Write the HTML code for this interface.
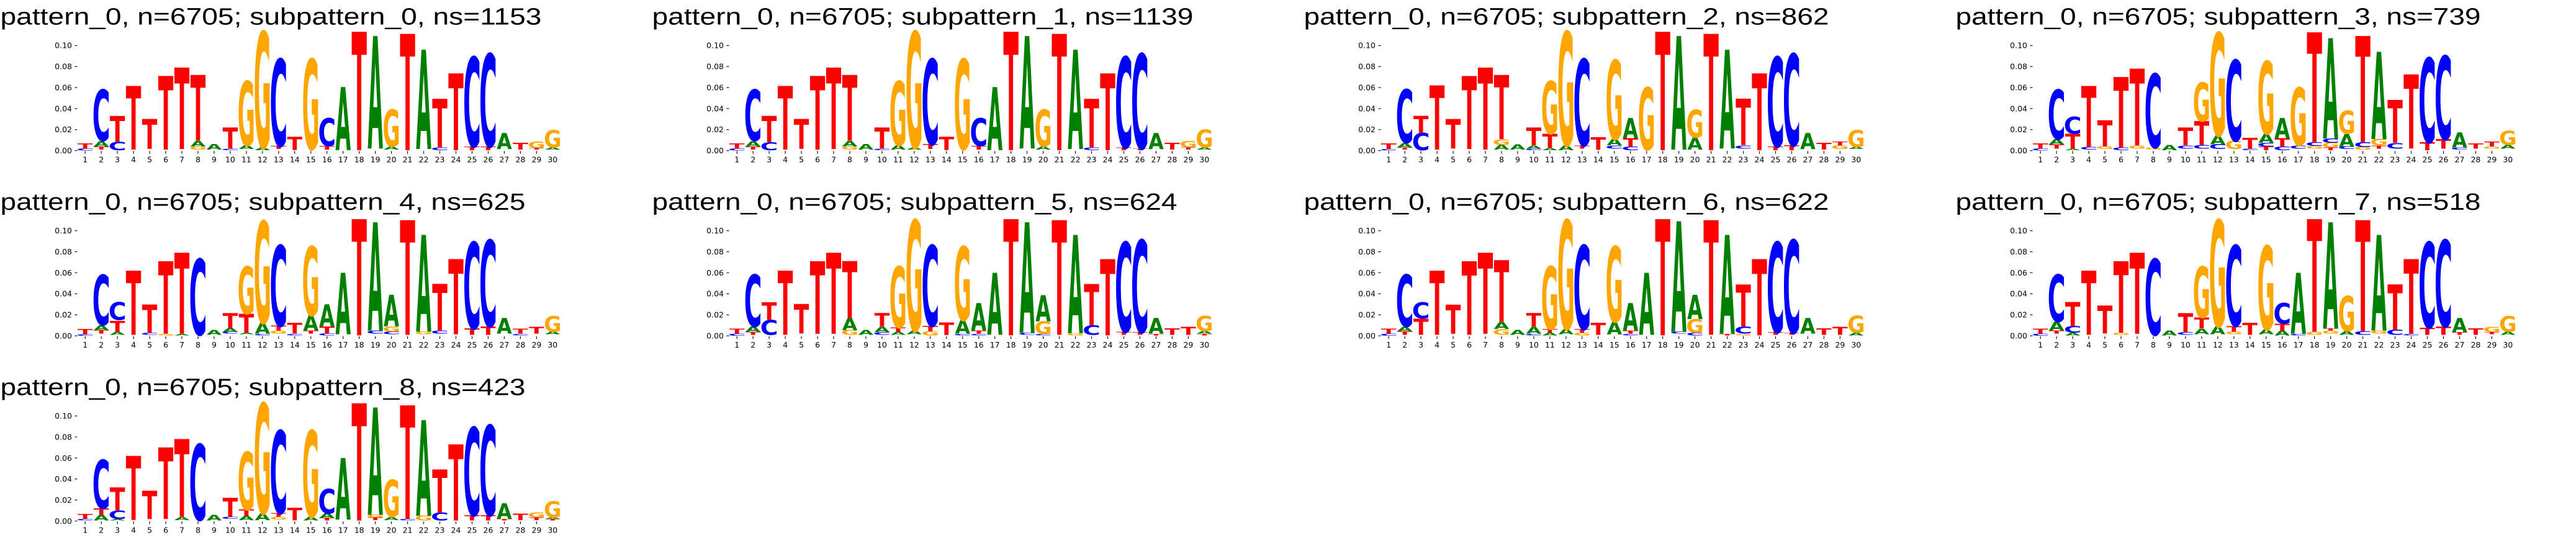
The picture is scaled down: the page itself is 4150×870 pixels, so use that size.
<!DOCTYPE html>
<html><head><meta charset="utf-8">
<style>
html,body{margin:0;padding:0;background:#fff;}
svg{display:block;}
.ti{font-family:"Liberation Sans",sans-serif;font-size:38px;fill:#000;}
.yl text{font-family:"DejaVu Sans",sans-serif;font-size:12.5px;text-anchor:end;fill:#000;}
.xl{font-family:"DejaVu Sans",sans-serif;font-size:12.5px;text-anchor:middle;fill:#000;}
.lg text{font-family:"DejaVu Sans",sans-serif;font-weight:bold;font-size:137.17px;text-anchor:middle;}
.T{fill:#ff0000}.A{fill:#008000}.C{fill:#0000ff}.G{fill:#ffa500}
</style></head>
<body>
<svg xmlns="http://www.w3.org/2000/svg" width="4150" height="870" viewBox="0 0 4150 870">
<defs>
<path id="tk" fill="none" stroke="#000" stroke-width="1.1" d="M120.5 242.7h4M120.5 208.8h4M120.5 174.9h4M120.5 141.1h4M120.5 107.2h4M120.5 73.3h4M137.2 243.3v4.4m25.97-4.4v4.4m25.97-4.4v4.4m25.97-4.4v4.4m25.97-4.4v4.4m25.97-4.4v4.4m25.97-4.4v4.4m25.97-4.4v4.4m25.97-4.4v4.4m25.97-4.4v4.4m25.97-4.4v4.4m25.97-4.4v4.4m25.97-4.4v4.4m25.97-4.4v4.4m25.97-4.4v4.4m25.97-4.4v4.4m25.97-4.4v4.4m25.97-4.4v4.4m25.97-4.4v4.4m25.97-4.4v4.4m25.97-4.4v4.4m25.97-4.4v4.4m25.97-4.4v4.4m25.97-4.4v4.4m25.97-4.4v4.4m25.97-4.4v4.4m25.97-4.4v4.4m25.97-4.4v4.4m25.97-4.4v4.4"/>
</defs>
<rect width="4150" height="870" fill="#fff"/>

<!-- Panel 0 -->
<g transform="translate(0,0)">
<text class="ti" x="0.5" y="39.5" textLength="872" lengthAdjust="spacingAndGlyphs">pattern_0, n=6705; subpattern_0, ns=1153</text>
<use href="#tk"/>
<g class="yl"><text x="116" y="247.1">0.00</text><text x="116" y="213.2">0.02</text><text x="116" y="179.3">0.04</text><text x="116" y="145.5">0.06</text><text x="116" y="111.6">0.08</text><text x="116" y="77.7">0.10</text></g>
<text class="xl" y="261.7"><tspan x="137.2">1</tspan><tspan x="163.2">2</tspan><tspan x="189.1">3</tspan><tspan x="215.1">4</tspan><tspan x="241.1">5</tspan><tspan x="267.1">6</tspan><tspan x="293">7</tspan><tspan x="319">8</tspan><tspan x="345">9</tspan><tspan x="370.9">10</tspan><tspan x="396.9">11</tspan><tspan x="422.9">12</tspan><tspan x="448.8">13</tspan><tspan x="474.8">14</tspan><tspan x="500.8">15</tspan><tspan x="526.8">16</tspan><tspan x="552.7">17</tspan><tspan x="578.7">18</tspan><tspan x="604.7">19</tspan><tspan x="630.6">20</tspan><tspan x="656.6">21</tspan><tspan x="682.6">22</tspan><tspan x="708.5">23</tspan><tspan x="734.5">24</tspan><tspan x="760.5">25</tspan><tspan x="786.5">26</tspan><tspan x="812.4">27</tspan><tspan x="838.4">28</tspan><tspan x="864.4">29</tspan><tspan x="890.3">30</tspan></text>
<g class="lg" transform="translate(111.23 242.7) scale(.2597 1.694)">
<text class="C" transform="matrix(1.1 0 0 .02 100 0)">C</text>
<text class="T" transform="matrix(1.013 0 0 .05 100 -2)">T</text>
<text class="T" transform="matrix(1.013 0 0 .03 200 -1)">T</text>
<text class="A" transform="matrix(.895 0 0 .05 200 -4)">A</text>
<text class="C" transform="matrix(1.1 0 0 .485 200 -9.5)">C</text>
<text class="C" transform="matrix(1.1 0 0 .08 300 -.5)">C</text>
<text class="T" transform="matrix(1.013 0 0 .245 300 -8.5)">T</text>
<text class="T" transform="matrix(1.013 0 0 .605 400 -1)">T</text>
<text class="T" transform="matrix(1.013 0 0 .285 500 -1.5)">T</text>
<text class="T" transform="matrix(1.013 0 0 .7 600 -1)">T</text>
<text class="T" transform="matrix(1.013 0 0 .775 700 -1.5)">T</text>
<text class="G" transform="matrix(.968 0 0 .03 800 -1)">G</text>
<text class="A" transform="matrix(.895 0 0 .055 800 -4)">A</text>
<text class="T" transform="matrix(1.013 0 0 .625 800 -9.5)">T</text>
<text class="A" transform="matrix(.895 0 0 .055 900 -1)">A</text>
<text class="C" transform="matrix(1.1 0 0 .015 1000 -.5)">C</text>
<text class="T" transform="matrix(1.013 0 0 .2 1000 -2)">T</text>
<text class="A" transform="matrix(.895 0 0 .035 1100 -1.5)">A</text>
<text class="G" transform="matrix(.968 0 0 .61 1100 -5)">G</text>
<text class="A" transform="matrix(.895 0 0 .025 1200 -.5)">A</text>
<text class="G" transform="matrix(.968 0 0 1.1 1200 -3)">G</text>
<text class="T" transform="matrix(1.013 0 0 .03 1300 -1.5)">T</text>
<text class="C" transform="matrix(1.1 0 0 .825 1300 -4.5)">C</text>
<text class="T" transform="matrix(1.013 0 0 .125 1400 -.5)">T</text>
<text class="G" transform="matrix(.968 0 0 .855 1500 -1.5)">G</text>
<text class="T" transform="matrix(1.013 0 0 .035 1600 -1)">T</text>
<text class="C" transform="matrix(1.1 0 0 .265 1600 -4.5)">C</text>
<text class="A" transform="matrix(.895 0 0 .6 1700 -.5)">A</text>
<text class="T" transform="matrix(1.013 0 0 1.125 1800 -.5)">T</text>
<text class="A" transform="matrix(.895 0 0 1.07 1900 -2)">A</text>
<text class="A" transform="matrix(.895 0 0 .03 2000 -1)">A</text>
<text class="G" transform="matrix(.968 0 0 .35 2000 -4)">G</text>
<text class="T" transform="matrix(1.013 0 0 1.105 2100 -.5)">T</text>
<text class="A" transform="matrix(.895 0 0 .945 2200 -1.5)">A</text>
<text class="C" transform="matrix(1.1 0 0 .025 2300 -.5)">C</text>
<text class="T" transform="matrix(1.013 0 0 .46 2300 -3)">T</text>
<text class="T" transform="matrix(1.013 0 0 .73 2400 -.5)">T</text>
<text class="T" transform="matrix(1.013 0 0 .035 2500 -.5)">T</text>
<text class="C" transform="matrix(1.1 0 0 .85 2500 -4)">C</text>
<text class="T" transform="matrix(1.013 0 0 .035 2600 -.5)">T</text>
<text class="C" transform="matrix(1.1 0 0 .88 2600 -4)">C</text>
<text class="A" transform="matrix(.895 0 0 .155 2700 -1.5)">A</text>
<text class="T" transform="matrix(1.013 0 0 .065 2800 -1)">T</text>
<text class="T" transform="matrix(1.013 0 0 .015 2900 -1)">T</text>
<text class="G" transform="matrix(.968 0 0 .06 2900 -2.5)">G</text>
<text class="A" transform="matrix(.895 0 0 .02 3000 -1)">A</text>
<text class="G" transform="matrix(.968 0 0 .165 3000 -3)">G</text>
</g>
</g>

<!-- Panel 1 -->
<g transform="translate(1050,0)">
<text class="ti" x="0.5" y="39.5" textLength="872" lengthAdjust="spacingAndGlyphs">pattern_0, n=6705; subpattern_1, ns=1139</text>
<use href="#tk"/>
<g class="yl"><text x="116" y="247.1">0.00</text><text x="116" y="213.2">0.02</text><text x="116" y="179.3">0.04</text><text x="116" y="145.5">0.06</text><text x="116" y="111.6">0.08</text><text x="116" y="77.7">0.10</text></g>
<text class="xl" y="261.7"><tspan x="137.2">1</tspan><tspan x="163.2">2</tspan><tspan x="189.1">3</tspan><tspan x="215.1">4</tspan><tspan x="241.1">5</tspan><tspan x="267.1">6</tspan><tspan x="293">7</tspan><tspan x="319">8</tspan><tspan x="345">9</tspan><tspan x="370.9">10</tspan><tspan x="396.9">11</tspan><tspan x="422.9">12</tspan><tspan x="448.8">13</tspan><tspan x="474.8">14</tspan><tspan x="500.8">15</tspan><tspan x="526.8">16</tspan><tspan x="552.7">17</tspan><tspan x="578.7">18</tspan><tspan x="604.7">19</tspan><tspan x="630.6">20</tspan><tspan x="656.6">21</tspan><tspan x="682.6">22</tspan><tspan x="708.5">23</tspan><tspan x="734.5">24</tspan><tspan x="760.5">25</tspan><tspan x="786.5">26</tspan><tspan x="812.4">27</tspan><tspan x="838.4">28</tspan><tspan x="864.4">29</tspan><tspan x="890.3">30</tspan></text>
<g class="lg" transform="translate(111.23 242.7) scale(.2597 1.694)">
<text class="C" transform="matrix(1.1 0 0 .02 100 0)">C</text>
<text class="T" transform="matrix(1.013 0 0 .05 100 -2)">T</text>
<text class="T" transform="matrix(1.013 0 0 .03 200 -1)">T</text>
<text class="A" transform="matrix(.895 0 0 .05 200 -4)">A</text>
<text class="C" transform="matrix(1.1 0 0 .485 200 -9.5)">C</text>
<text class="C" transform="matrix(1.1 0 0 .075 300 -.5)">C</text>
<text class="T" transform="matrix(1.013 0 0 .25 300 -8)">T</text>
<text class="T" transform="matrix(1.013 0 0 .605 400 -1)">T</text>
<text class="T" transform="matrix(1.013 0 0 .285 500 -1.5)">T</text>
<text class="T" transform="matrix(1.013 0 0 .7 600 -1)">T</text>
<text class="T" transform="matrix(1.013 0 0 .775 700 -1.5)">T</text>
<text class="G" transform="matrix(.968 0 0 .03 800 -1)">G</text>
<text class="A" transform="matrix(.895 0 0 .055 800 -4)">A</text>
<text class="T" transform="matrix(1.013 0 0 .625 800 -9.5)">T</text>
<text class="A" transform="matrix(.895 0 0 .055 900 -1)">A</text>
<text class="C" transform="matrix(1.1 0 0 .015 1000 -.5)">C</text>
<text class="T" transform="matrix(1.013 0 0 .2 1000 -2)">T</text>
<text class="A" transform="matrix(.895 0 0 .04 1100 -1)">A</text>
<text class="G" transform="matrix(.968 0 0 .61 1100 -5)">G</text>
<text class="A" transform="matrix(.895 0 0 .02 1200 -1)">A</text>
<text class="G" transform="matrix(.968 0 0 1.1 1200 -3)">G</text>
<text class="T" transform="matrix(1.013 0 0 .045 1300 -1.5)">T</text>
<text class="C" transform="matrix(1.1 0 0 .81 1300 -6)">C</text>
<text class="T" transform="matrix(1.013 0 0 .125 1400 -.5)">T</text>
<text class="G" transform="matrix(.968 0 0 .855 1500 -1.5)">G</text>
<text class="T" transform="matrix(1.013 0 0 .035 1600 -1)">T</text>
<text class="C" transform="matrix(1.1 0 0 .265 1600 -4.5)">C</text>
<text class="A" transform="matrix(.895 0 0 .6 1700 -.5)">A</text>
<text class="T" transform="matrix(1.013 0 0 1.125 1800 -.5)">T</text>
<text class="A" transform="matrix(.895 0 0 1.07 1900 -2)">A</text>
<text class="A" transform="matrix(.895 0 0 .03 2000 -1)">A</text>
<text class="G" transform="matrix(.968 0 0 .35 2000 -4)">G</text>
<text class="T" transform="matrix(1.013 0 0 1.105 2100 -.5)">T</text>
<text class="A" transform="matrix(.895 0 0 .945 2200 -1.5)">A</text>
<text class="C" transform="matrix(1.1 0 0 .025 2300 -.5)">C</text>
<text class="T" transform="matrix(1.013 0 0 .46 2300 -3)">T</text>
<text class="T" transform="matrix(1.013 0 0 .73 2400 -.5)">T</text>
<text class="T" transform="matrix(1.013 0 0 .025 2500 -.5)">T</text>
<text class="C" transform="matrix(1.1 0 0 .86 2500 -3)">C</text>
<text class="T" transform="matrix(1.013 0 0 .015 2600 -.5)">T</text>
<text class="C" transform="matrix(1.1 0 0 .9 2600 -2)">C</text>
<text class="A" transform="matrix(.895 0 0 .155 2700 -1.5)">A</text>
<text class="T" transform="matrix(1.013 0 0 .065 2800 -1)">T</text>
<text class="T" transform="matrix(1.013 0 0 .02 2900 -1)">T</text>
<text class="G" transform="matrix(.968 0 0 .06 2900 -3)">G</text>
<text class="A" transform="matrix(.895 0 0 .02 3000 -1)">A</text>
<text class="G" transform="matrix(.968 0 0 .17 3000 -3)">G</text>
</g>
</g>

<!-- Panel 2 -->
<g transform="translate(2100,0)">
<text class="ti" x="0.5" y="39.5" textLength="846" lengthAdjust="spacingAndGlyphs">pattern_0, n=6705; subpattern_2, ns=862</text>
<use href="#tk"/>
<g class="yl"><text x="116" y="247.1">0.00</text><text x="116" y="213.2">0.02</text><text x="116" y="179.3">0.04</text><text x="116" y="145.5">0.06</text><text x="116" y="111.6">0.08</text><text x="116" y="77.7">0.10</text></g>
<text class="xl" y="261.7"><tspan x="137.2">1</tspan><tspan x="163.2">2</tspan><tspan x="189.1">3</tspan><tspan x="215.1">4</tspan><tspan x="241.1">5</tspan><tspan x="267.1">6</tspan><tspan x="293">7</tspan><tspan x="319">8</tspan><tspan x="345">9</tspan><tspan x="370.9">10</tspan><tspan x="396.9">11</tspan><tspan x="422.9">12</tspan><tspan x="448.8">13</tspan><tspan x="474.8">14</tspan><tspan x="500.8">15</tspan><tspan x="526.8">16</tspan><tspan x="552.7">17</tspan><tspan x="578.7">18</tspan><tspan x="604.7">19</tspan><tspan x="630.6">20</tspan><tspan x="656.6">21</tspan><tspan x="682.6">22</tspan><tspan x="708.5">23</tspan><tspan x="734.5">24</tspan><tspan x="760.5">25</tspan><tspan x="786.5">26</tspan><tspan x="812.4">27</tspan><tspan x="838.4">28</tspan><tspan x="864.4">29</tspan><tspan x="890.3">30</tspan></text>
<g class="lg" transform="translate(111.23 242.7) scale(.2597 1.694)">
<text class="C" transform="matrix(1.1 0 0 .015 100 0)">C</text>
<text class="T" transform="matrix(1.013 0 0 .055 100 -1.5)">T</text>
<text class="T" transform="matrix(1.013 0 0 .02 200 -1)">T</text>
<text class="A" transform="matrix(.895 0 0 .04 200 -3)">A</text>
<text class="C" transform="matrix(1.1 0 0 .505 200 -7.5)">C</text>
<text class="C" transform="matrix(1.1 0 0 .165 300 -.5)">C</text>
<text class="T" transform="matrix(1.013 0 0 .16 300 -17)">T</text>
<text class="T" transform="matrix(1.013 0 0 .61 400 -1)">T</text>
<text class="T" transform="matrix(1.013 0 0 .28 500 -2)">T</text>
<text class="T" transform="matrix(1.013 0 0 .695 600 -1.5)">T</text>
<text class="T" transform="matrix(1.013 0 0 .78 700 -1)">T</text>
<text class="A" transform="matrix(.895 0 0 .045 800 -1)">A</text>
<text class="G" transform="matrix(.968 0 0 .055 800 -5.5)">G</text>
<text class="T" transform="matrix(1.013 0 0 .61 800 -11)">T</text>
<text class="A" transform="matrix(.895 0 0 .05 900 -1)">A</text>
<text class="C" transform="matrix(1.1 0 0 .015 1000 -.5)">C</text>
<text class="A" transform="matrix(.895 0 0 .03 1000 -2)">A</text>
<text class="T" transform="matrix(1.013 0 0 .17 1000 -5)">T</text>
<text class="A" transform="matrix(.895 0 0 .02 1100 -.5)">A</text>
<text class="T" transform="matrix(1.013 0 0 .135 1100 -2.5)">T</text>
<text class="G" transform="matrix(.968 0 0 .5 1100 -16)">G</text>
<text class="A" transform="matrix(.895 0 0 .045 1200 -.5)">A</text>
<text class="G" transform="matrix(.968 0 0 1.08 1200 -5)">G</text>
<text class="T" transform="matrix(1.013 0 0 .03 1300 -2)">T</text>
<text class="C" transform="matrix(1.1 0 0 .82 1300 -5)">C</text>
<text class="T" transform="matrix(1.013 0 0 .12 1400 -1)">T</text>
<text class="C" transform="matrix(1.1 0 0 .03 1500 -2)">C</text>
<text class="A" transform="matrix(.895 0 0 .06 1500 -5)">A</text>
<text class="G" transform="matrix(.968 0 0 .75 1500 -11)">G</text>
<text class="C" transform="matrix(1.1 0 0 .035 1600 -.5)">C</text>
<text class="T" transform="matrix(1.013 0 0 .08 1600 -4)">T</text>
<text class="A" transform="matrix(.895 0 0 .19 1600 -12)">A</text>
<text class="G" transform="matrix(.968 0 0 .59 1700 -1)">G</text>
<text class="T" transform="matrix(1.013 0 0 1.125 1800 -.5)">T</text>
<text class="A" transform="matrix(.895 0 0 1.08 1900 -1)">A</text>
<text class="A" transform="matrix(.895 0 0 .115 2000 -1)">A</text>
<text class="G" transform="matrix(.968 0 0 .265 2000 -12.5)">G</text>
<text class="T" transform="matrix(1.013 0 0 1.105 2100 -.5)">T</text>
<text class="A" transform="matrix(.895 0 0 .94 2200 -2)">A</text>
<text class="C" transform="matrix(1.1 0 0 .03 2300 -2)">C</text>
<text class="T" transform="matrix(1.013 0 0 .44 2300 -5)">T</text>
<text class="T" transform="matrix(1.013 0 0 .73 2400 -.5)">T</text>
<text class="T" transform="matrix(1.013 0 0 .035 2500 -.5)">T</text>
<text class="C" transform="matrix(1.1 0 0 .85 2500 -4)">C</text>
<text class="T" transform="matrix(1.013 0 0 .045 2600 -.5)">T</text>
<text class="C" transform="matrix(1.1 0 0 .87 2600 -5)">C</text>
<text class="A" transform="matrix(.895 0 0 .155 2700 -1.5)">A</text>
<text class="T" transform="matrix(1.013 0 0 .065 2800 -1)">T</text>
<text class="G" transform="matrix(.968 0 0 .035 2900 -1.5)">G</text>
<text class="T" transform="matrix(1.013 0 0 .035 2900 -5)">T</text>
<text class="A" transform="matrix(.895 0 0 .02 3000 -1.5)">A</text>
<text class="G" transform="matrix(.968 0 0 .16 3000 -3.5)">G</text>
</g>
</g>

<!-- Panel 3 -->
<g transform="translate(3150,0)">
<text class="ti" x="0.5" y="39.5" textLength="846" lengthAdjust="spacingAndGlyphs">pattern_0, n=6705; subpattern_3, ns=739</text>
<use href="#tk"/>
<g class="yl"><text x="116" y="247.1">0.00</text><text x="116" y="213.2">0.02</text><text x="116" y="179.3">0.04</text><text x="116" y="145.5">0.06</text><text x="116" y="111.6">0.08</text><text x="116" y="77.7">0.10</text></g>
<text class="xl" y="261.7"><tspan x="137.2">1</tspan><tspan x="163.2">2</tspan><tspan x="189.1">3</tspan><tspan x="215.1">4</tspan><tspan x="241.1">5</tspan><tspan x="267.1">6</tspan><tspan x="293">7</tspan><tspan x="319">8</tspan><tspan x="345">9</tspan><tspan x="370.9">10</tspan><tspan x="396.9">11</tspan><tspan x="422.9">12</tspan><tspan x="448.8">13</tspan><tspan x="474.8">14</tspan><tspan x="500.8">15</tspan><tspan x="526.8">16</tspan><tspan x="552.7">17</tspan><tspan x="578.7">18</tspan><tspan x="604.7">19</tspan><tspan x="630.6">20</tspan><tspan x="656.6">21</tspan><tspan x="682.6">22</tspan><tspan x="708.5">23</tspan><tspan x="734.5">24</tspan><tspan x="760.5">25</tspan><tspan x="786.5">26</tspan><tspan x="812.4">27</tspan><tspan x="838.4">28</tspan><tspan x="864.4">29</tspan><tspan x="890.3">30</tspan></text>
<g class="lg" transform="translate(111.23 242.7) scale(.2597 1.694)">
<text class="C" transform="matrix(1.1 0 0 .02 100 0)">C</text>
<text class="T" transform="matrix(1.013 0 0 .05 100 -2)">T</text>
<text class="T" transform="matrix(1.013 0 0 .04 200 -2)">T</text>
<text class="A" transform="matrix(.895 0 0 .05 200 -6)">A</text>
<text class="C" transform="matrix(1.1 0 0 .47 200 -11)">C</text>
<text class="A" transform="matrix(.895 0 0 .015 300 -.5)">A</text>
<text class="T" transform="matrix(1.013 0 0 .14 300 -2)">T</text>
<text class="C" transform="matrix(1.1 0 0 .16 300 -16)">C</text>
<text class="C" transform="matrix(1.1 0 0 .025 400 -1)">C</text>
<text class="T" transform="matrix(1.013 0 0 .58 400 -3.5)">T</text>
<text class="G" transform="matrix(.968 0 0 .025 500 -1.5)">G</text>
<text class="T" transform="matrix(1.013 0 0 .25 500 -4)">T</text>
<text class="C" transform="matrix(1.1 0 0 .025 600 -.5)">C</text>
<text class="T" transform="matrix(1.013 0 0 .67 600 -3)">T</text>
<text class="G" transform="matrix(.968 0 0 .03 700 -2)">G</text>
<text class="T" transform="matrix(1.013 0 0 .73 700 -5)">T</text>
<text class="G" transform="matrix(.968 0 0 .02 800 -1)">G</text>
<text class="C" transform="matrix(1.1 0 0 .7 800 -3)">C</text>
<text class="A" transform="matrix(.895 0 0 .05 900 -.5)">A</text>
<text class="C" transform="matrix(1.1 0 0 .03 1000 -2)">C</text>
<text class="T" transform="matrix(1.013 0 0 .17 1000 -5)">T</text>
<text class="C" transform="matrix(1.1 0 0 .035 1100 -2)">C</text>
<text class="T" transform="matrix(1.013 0 0 .225 1100 -5.5)">T</text>
<text class="G" transform="matrix(.968 0 0 .37 1100 -28)">G</text>
<text class="C" transform="matrix(1.1 0 0 .045 1200 -1.5)">C</text>
<text class="A" transform="matrix(.895 0 0 .085 1200 -6)">A</text>
<text class="G" transform="matrix(.968 0 0 .975 1200 -14.5)">G</text>
<text class="G" transform="matrix(.968 0 0 .08 1300 -1.5)">G</text>
<text class="C" transform="matrix(1.1 0 0 .765 1300 -9.5)">C</text>
<text class="C" transform="matrix(1.1 0 0 .015 1400 -.5)">C</text>
<text class="T" transform="matrix(1.013 0 0 .105 1400 -2)">T</text>
<text class="T" transform="matrix(1.013 0 0 .035 1500 -.5)">T</text>
<text class="C" transform="matrix(1.1 0 0 .035 1500 -4)">C</text>
<text class="A" transform="matrix(.895 0 0 .085 1500 -7.5)">A</text>
<text class="G" transform="matrix(.968 0 0 .69 1500 -16)">G</text>
<text class="C" transform="matrix(1.1 0 0 .035 1600 -.5)">C</text>
<text class="T" transform="matrix(1.013 0 0 .08 1600 -4)">T</text>
<text class="A" transform="matrix(.895 0 0 .19 1600 -12)">A</text>
<text class="C" transform="matrix(1.1 0 0 .03 1700 -2)">C</text>
<text class="G" transform="matrix(.968 0 0 .55 1700 -5)">G</text>
<text class="G" transform="matrix(.968 0 0 .025 1800 -2)">G</text>
<text class="C" transform="matrix(1.1 0 0 .035 1800 -4.5)">C</text>
<text class="T" transform="matrix(1.013 0 0 1.045 1800 -8)">T</text>
<text class="T" transform="matrix(1.013 0 0 .025 1900 -.5)">T</text>
<text class="G" transform="matrix(.968 0 0 .045 1900 -3)">G</text>
<text class="C" transform="matrix(1.1 0 0 .04 1900 -7.5)">C</text>
<text class="A" transform="matrix(.895 0 0 .955 1900 -11.5)">A</text>
<text class="C" transform="matrix(1.1 0 0 .025 2000 -1.5)">C</text>
<text class="A" transform="matrix(.895 0 0 .12 2000 -4)">A</text>
<text class="G" transform="matrix(.968 0 0 .22 2000 -16)">G</text>
<text class="G" transform="matrix(.968 0 0 .025 2100 -1)">G</text>
<text class="C" transform="matrix(1.1 0 0 .045 2100 -3.5)">C</text>
<text class="T" transform="matrix(1.013 0 0 1.01 2100 -8)">T</text>
<text class="T" transform="matrix(1.013 0 0 .03 2200 -2)">T</text>
<text class="G" transform="matrix(.968 0 0 .06 2200 -5)">G</text>
<text class="A" transform="matrix(.895 0 0 .83 2200 -11)">A</text>
<text class="C" transform="matrix(1.1 0 0 .055 2300 -2)">C</text>
<text class="T" transform="matrix(1.013 0 0 .405 2300 -7.5)">T</text>
<text class="T" transform="matrix(1.013 0 0 .705 2400 -2)">T</text>
<text class="T" transform="matrix(1.013 0 0 .075 2500 -.5)">T</text>
<text class="C" transform="matrix(1.1 0 0 .8 2500 -8)">C</text>
<text class="T" transform="matrix(1.013 0 0 .09 2600 -2)">T</text>
<text class="C" transform="matrix(1.1 0 0 .79 2600 -11)">C</text>
<text class="C" transform="matrix(1.1 0 0 .02 2700 -1)">C</text>
<text class="A" transform="matrix(.895 0 0 .14 2700 -3)">A</text>
<text class="T" transform="matrix(1.013 0 0 .05 2800 -2)">T</text>
<text class="G" transform="matrix(.968 0 0 .02 2900 -2)">G</text>
<text class="T" transform="matrix(1.013 0 0 .045 2900 -4)">T</text>
<text class="A" transform="matrix(.895 0 0 .035 3000 -2)">A</text>
<text class="G" transform="matrix(.968 0 0 .135 3000 -5.5)">G</text>
</g>
</g>

<!-- Panel 4 -->
<g transform="translate(0,298.4)">
<text class="ti" x="0.5" y="39.5" textLength="846" lengthAdjust="spacingAndGlyphs">pattern_0, n=6705; subpattern_4, ns=625</text>
<use href="#tk"/>
<g class="yl"><text x="116" y="247.1">0.00</text><text x="116" y="213.2">0.02</text><text x="116" y="179.3">0.04</text><text x="116" y="145.5">0.06</text><text x="116" y="111.6">0.08</text><text x="116" y="77.7">0.10</text></g>
<text class="xl" y="261.7"><tspan x="137.2">1</tspan><tspan x="163.2">2</tspan><tspan x="189.1">3</tspan><tspan x="215.1">4</tspan><tspan x="241.1">5</tspan><tspan x="267.1">6</tspan><tspan x="293">7</tspan><tspan x="319">8</tspan><tspan x="345">9</tspan><tspan x="370.9">10</tspan><tspan x="396.9">11</tspan><tspan x="422.9">12</tspan><tspan x="448.8">13</tspan><tspan x="474.8">14</tspan><tspan x="500.8">15</tspan><tspan x="526.8">16</tspan><tspan x="552.7">17</tspan><tspan x="578.7">18</tspan><tspan x="604.7">19</tspan><tspan x="630.6">20</tspan><tspan x="656.6">21</tspan><tspan x="682.6">22</tspan><tspan x="708.5">23</tspan><tspan x="734.5">24</tspan><tspan x="760.5">25</tspan><tspan x="786.5">26</tspan><tspan x="812.4">27</tspan><tspan x="838.4">28</tspan><tspan x="864.4">29</tspan><tspan x="890.3">30</tspan></text>
<g class="lg" transform="translate(111.23 242.7) scale(.2597 1.694)">
<text class="C" transform="matrix(1.1 0 0 .015 100 0)">C</text>
<text class="T" transform="matrix(1.013 0 0 .05 100 -1.5)">T</text>
<text class="T" transform="matrix(1.013 0 0 .035 200 -2)">T</text>
<text class="A" transform="matrix(.895 0 0 .045 200 -5.5)">A</text>
<text class="C" transform="matrix(1.1 0 0 .475 200 -10.5)">C</text>
<text class="A" transform="matrix(.895 0 0 .03 300 -1)">A</text>
<text class="T" transform="matrix(1.013 0 0 .105 300 -4)">T</text>
<text class="C" transform="matrix(1.1 0 0 .17 300 -15)">C</text>
<text class="T" transform="matrix(1.013 0 0 .61 400 -1)">T</text>
<text class="C" transform="matrix(1.1 0 0 .02 500 -1)">C</text>
<text class="T" transform="matrix(1.013 0 0 .27 500 -3)">T</text>
<text class="G" transform="matrix(.968 0 0 .015 600 -.5)">G</text>
<text class="T" transform="matrix(1.013 0 0 .69 600 -2)">T</text>
<text class="A" transform="matrix(.895 0 0 .015 700 -.5)">A</text>
<text class="T" transform="matrix(1.013 0 0 .77 700 -2)">T</text>
<text class="C" transform="matrix(1.1 0 0 .72 800 -1)">C</text>
<text class="A" transform="matrix(.895 0 0 .045 900 -1)">A</text>
<text class="C" transform="matrix(1.1 0 0 .02 1000 -2)">C</text>
<text class="A" transform="matrix(.895 0 0 .035 1000 -4)">A</text>
<text class="T" transform="matrix(1.013 0 0 .14 1000 -7.5)">T</text>
<text class="A" transform="matrix(.895 0 0 .015 1100 -1.5)">A</text>
<text class="T" transform="matrix(1.013 0 0 .18 1100 -3)">T</text>
<text class="G" transform="matrix(.968 0 0 .45 1100 -21)">G</text>
<text class="C" transform="matrix(1.1 0 0 .015 1200 -.5)">C</text>
<text class="A" transform="matrix(.895 0 0 .105 1200 -2)">A</text>
<text class="G" transform="matrix(.968 0 0 .965 1200 -12.5)">G</text>
<text class="G" transform="matrix(.968 0 0 .03 1300 -2)">G</text>
<text class="T" transform="matrix(1.013 0 0 .045 1300 -5)">T</text>
<text class="C" transform="matrix(1.1 0 0 .765 1300 -9.5)">C</text>
<text class="C" transform="matrix(1.1 0 0 .015 1400 -.5)">C</text>
<text class="T" transform="matrix(1.013 0 0 .105 1400 -2)">T</text>
<text class="T" transform="matrix(1.013 0 0 .03 1500 -2)">T</text>
<text class="A" transform="matrix(.895 0 0 .145 1500 -5)">A</text>
<text class="G" transform="matrix(.968 0 0 .655 1500 -19.5)">G</text>
<text class="C" transform="matrix(1.1 0 0 .02 1600 -.5)">C</text>
<text class="T" transform="matrix(1.013 0 0 .065 1600 -2.5)">T</text>
<text class="A" transform="matrix(.895 0 0 .21 1600 -9)">A</text>
<text class="A" transform="matrix(.895 0 0 .585 1700 -1.5)">A</text>
<text class="T" transform="matrix(1.013 0 0 1.105 1800 -.5)">T</text>
<text class="C" transform="matrix(1.1 0 0 .03 1900 -2)">C</text>
<text class="A" transform="matrix(.895 0 0 1.03 1900 -5)">A</text>
<text class="C" transform="matrix(1.1 0 0 .025 2000 -1.5)">C</text>
<text class="G" transform="matrix(.968 0 0 .05 2000 -4)">G</text>
<text class="A" transform="matrix(.895 0 0 .3 2000 -9)">A</text>
<text class="T" transform="matrix(1.013 0 0 1.09 2100 -1)">T</text>
<text class="G" transform="matrix(.968 0 0 .025 2200 -1.5)">G</text>
<text class="A" transform="matrix(.895 0 0 .92 2200 -4)">A</text>
<text class="C" transform="matrix(1.1 0 0 .03 2300 -2)">C</text>
<text class="T" transform="matrix(1.013 0 0 .44 2300 -5)">T</text>
<text class="T" transform="matrix(1.013 0 0 .715 2400 -1.5)">T</text>
<text class="T" transform="matrix(1.013 0 0 .06 2500 -1)">T</text>
<text class="C" transform="matrix(1.1 0 0 .82 2500 -7)">C</text>
<text class="T" transform="matrix(1.013 0 0 .08 2600 -1)">T</text>
<text class="C" transform="matrix(1.1 0 0 .82 2600 -9)">C</text>
<text class="A" transform="matrix(.895 0 0 .15 2700 -2)">A</text>
<text class="C" transform="matrix(1.1 0 0 .015 2800 -.5)">C</text>
<text class="T" transform="matrix(1.013 0 0 .045 2800 -2)">T</text>
<text class="T" transform="matrix(1.013 0 0 .065 2900 -2)">T</text>
<text class="A" transform="matrix(.895 0 0 .025 3000 -1.5)">A</text>
<text class="G" transform="matrix(.968 0 0 .15 3000 -4)">G</text>
</g>
</g>

<!-- Panel 5 -->
<g transform="translate(1050,298.4)">
<text class="ti" x="0.5" y="39.5" textLength="846" lengthAdjust="spacingAndGlyphs">pattern_0, n=6705; subpattern_5, ns=624</text>
<use href="#tk"/>
<g class="yl"><text x="116" y="247.1">0.00</text><text x="116" y="213.2">0.02</text><text x="116" y="179.3">0.04</text><text x="116" y="145.5">0.06</text><text x="116" y="111.6">0.08</text><text x="116" y="77.7">0.10</text></g>
<text class="xl" y="261.7"><tspan x="137.2">1</tspan><tspan x="163.2">2</tspan><tspan x="189.1">3</tspan><tspan x="215.1">4</tspan><tspan x="241.1">5</tspan><tspan x="267.1">6</tspan><tspan x="293">7</tspan><tspan x="319">8</tspan><tspan x="345">9</tspan><tspan x="370.9">10</tspan><tspan x="396.9">11</tspan><tspan x="422.9">12</tspan><tspan x="448.8">13</tspan><tspan x="474.8">14</tspan><tspan x="500.8">15</tspan><tspan x="526.8">16</tspan><tspan x="552.7">17</tspan><tspan x="578.7">18</tspan><tspan x="604.7">19</tspan><tspan x="630.6">20</tspan><tspan x="656.6">21</tspan><tspan x="682.6">22</tspan><tspan x="708.5">23</tspan><tspan x="734.5">24</tspan><tspan x="760.5">25</tspan><tspan x="786.5">26</tspan><tspan x="812.4">27</tspan><tspan x="838.4">28</tspan><tspan x="864.4">29</tspan><tspan x="890.3">30</tspan></text>
<g class="lg" transform="translate(111.23 242.7) scale(.2597 1.694)">
<text class="C" transform="matrix(1.1 0 0 .02 100 0)">C</text>
<text class="T" transform="matrix(1.013 0 0 .045 100 -2)">T</text>
<text class="T" transform="matrix(1.013 0 0 .03 200 -1)">T</text>
<text class="A" transform="matrix(.895 0 0 .05 200 -4)">A</text>
<text class="C" transform="matrix(1.1 0 0 .49 200 -9)">C</text>
<text class="C" transform="matrix(1.1 0 0 .14 300 -1)">C</text>
<text class="T" transform="matrix(1.013 0 0 .17 300 -15)">T</text>
<text class="T" transform="matrix(1.013 0 0 .61 400 -1)">T</text>
<text class="T" transform="matrix(1.013 0 0 .28 500 -2)">T</text>
<text class="T" transform="matrix(1.013 0 0 .69 600 -2)">T</text>
<text class="T" transform="matrix(1.013 0 0 .77 700 -2)">T</text>
<text class="G" transform="matrix(.968 0 0 .045 800 -1)">G</text>
<text class="A" transform="matrix(.895 0 0 .115 800 -5.5)">A</text>
<text class="T" transform="matrix(1.013 0 0 .54 800 -17)">T</text>
<text class="A" transform="matrix(.895 0 0 .045 900 -1)">A</text>
<text class="C" transform="matrix(1.1 0 0 .025 1000 -1)">C</text>
<text class="A" transform="matrix(.895 0 0 .05 1000 -3.5)">A</text>
<text class="T" transform="matrix(1.013 0 0 .13 1000 -8.5)">T</text>
<text class="A" transform="matrix(.895 0 0 .03 1100 -1)">A</text>
<text class="T" transform="matrix(1.013 0 0 .04 1100 -4)">T</text>
<text class="G" transform="matrix(.968 0 0 .58 1100 -8)">G</text>
<text class="A" transform="matrix(.895 0 0 .035 1200 -1.5)">A</text>
<text class="G" transform="matrix(.968 0 0 1.05 1200 -5)">G</text>
<text class="G" transform="matrix(.968 0 0 .04 1300 -.5)">G</text>
<text class="T" transform="matrix(1.013 0 0 .05 1300 -4.5)">T</text>
<text class="C" transform="matrix(1.1 0 0 .765 1300 -9.5)">C</text>
<text class="T" transform="matrix(1.013 0 0 .12 1400 -1)">T</text>
<text class="C" transform="matrix(1.1 0 0 .015 1500 -.5)">C</text>
<text class="A" transform="matrix(.895 0 0 .13 1500 -2)">A</text>
<text class="G" transform="matrix(.968 0 0 .7 1500 -15)">G</text>
<text class="C" transform="matrix(1.1 0 0 .015 1600 -.5)">C</text>
<text class="T" transform="matrix(1.013 0 0 .03 1600 -2)">T</text>
<text class="A" transform="matrix(.895 0 0 .26 1600 -5)">A</text>
<text class="A" transform="matrix(.895 0 0 .59 1700 -1)">A</text>
<text class="T" transform="matrix(1.013 0 0 1.105 1800 -.5)">T</text>
<text class="C" transform="matrix(1.1 0 0 .02 1900 -1)">C</text>
<text class="A" transform="matrix(.895 0 0 1.05 1900 -3)">A</text>
<text class="C" transform="matrix(1.1 0 0 .015 2000 -.5)">C</text>
<text class="G" transform="matrix(.968 0 0 .12 2000 -2)">G</text>
<text class="A" transform="matrix(.895 0 0 .25 2000 -14)">A</text>
<text class="T" transform="matrix(1.013 0 0 1.09 2100 -1)">T</text>
<text class="G" transform="matrix(.968 0 0 .02 2200 -.5)">G</text>
<text class="A" transform="matrix(.895 0 0 .935 2200 -2.5)">A</text>
<text class="C" transform="matrix(1.1 0 0 .09 2300 -1)">C</text>
<text class="T" transform="matrix(1.013 0 0 .39 2300 -10)">T</text>
<text class="T" transform="matrix(1.013 0 0 .725 2400 -.5)">T</text>
<text class="T" transform="matrix(1.013 0 0 .03 2500 -1)">T</text>
<text class="C" transform="matrix(1.1 0 0 .85 2500 -4)">C</text>
<text class="T" transform="matrix(1.013 0 0 .025 2600 -1)">T</text>
<text class="C" transform="matrix(1.1 0 0 .875 2600 -3.5)">C</text>
<text class="T" transform="matrix(1.013 0 0 .015 2700 -.5)">T</text>
<text class="A" transform="matrix(.895 0 0 .15 2700 -2)">A</text>
<text class="T" transform="matrix(1.013 0 0 .06 2800 -1)">T</text>
<text class="T" transform="matrix(1.013 0 0 .075 2900 -1)">T</text>
<text class="T" transform="matrix(1.013 0 0 .015 3000 -.5)">T</text>
<text class="A" transform="matrix(.895 0 0 .025 3000 -2)">A</text>
<text class="G" transform="matrix(.968 0 0 .145 3000 -4.5)">G</text>
</g>
</g>

<!-- Panel 6 -->
<g transform="translate(2100,298.4)">
<text class="ti" x="0.5" y="39.5" textLength="846" lengthAdjust="spacingAndGlyphs">pattern_0, n=6705; subpattern_6, ns=622</text>
<use href="#tk"/>
<g class="yl"><text x="116" y="247.1">0.00</text><text x="116" y="213.2">0.02</text><text x="116" y="179.3">0.04</text><text x="116" y="145.5">0.06</text><text x="116" y="111.6">0.08</text><text x="116" y="77.7">0.10</text></g>
<text class="xl" y="261.7"><tspan x="137.2">1</tspan><tspan x="163.2">2</tspan><tspan x="189.1">3</tspan><tspan x="215.1">4</tspan><tspan x="241.1">5</tspan><tspan x="267.1">6</tspan><tspan x="293">7</tspan><tspan x="319">8</tspan><tspan x="345">9</tspan><tspan x="370.9">10</tspan><tspan x="396.9">11</tspan><tspan x="422.9">12</tspan><tspan x="448.8">13</tspan><tspan x="474.8">14</tspan><tspan x="500.8">15</tspan><tspan x="526.8">16</tspan><tspan x="552.7">17</tspan><tspan x="578.7">18</tspan><tspan x="604.7">19</tspan><tspan x="630.6">20</tspan><tspan x="656.6">21</tspan><tspan x="682.6">22</tspan><tspan x="708.5">23</tspan><tspan x="734.5">24</tspan><tspan x="760.5">25</tspan><tspan x="786.5">26</tspan><tspan x="812.4">27</tspan><tspan x="838.4">28</tspan><tspan x="864.4">29</tspan><tspan x="890.3">30</tspan></text>
<g class="lg" transform="translate(111.23 242.7) scale(.2597 1.694)">
<text class="C" transform="matrix(1.1 0 0 .02 100 0)">C</text>
<text class="T" transform="matrix(1.013 0 0 .045 100 -2)">T</text>
<text class="T" transform="matrix(1.013 0 0 .035 200 -1)">T</text>
<text class="A" transform="matrix(.895 0 0 .04 200 -4.5)">A</text>
<text class="C" transform="matrix(1.1 0 0 .49 200 -9)">C</text>
<text class="T" transform="matrix(1.013 0 0 .155 300 -1)">T</text>
<text class="C" transform="matrix(1.1 0 0 .155 300 -16.5)">C</text>
<text class="T" transform="matrix(1.013 0 0 .61 400 -1)">T</text>
<text class="T" transform="matrix(1.013 0 0 .275 500 -2)">T</text>
<text class="T" transform="matrix(1.013 0 0 .7 600 -1)">T</text>
<text class="T" transform="matrix(1.013 0 0 .77 700 -2)">T</text>
<text class="G" transform="matrix(.968 0 0 .055 800 -1)">G</text>
<text class="A" transform="matrix(.895 0 0 .07 800 -6.5)">A</text>
<text class="T" transform="matrix(1.013 0 0 .585 800 -13.5)">T</text>
<text class="A" transform="matrix(.895 0 0 .045 900 -1)">A</text>
<text class="C" transform="matrix(1.1 0 0 .015 1000 -.5)">C</text>
<text class="A" transform="matrix(.895 0 0 .065 1000 -2)">A</text>
<text class="T" transform="matrix(1.013 0 0 .13 1000 -8.5)">T</text>
<text class="A" transform="matrix(.895 0 0 .025 1100 -.5)">A</text>
<text class="T" transform="matrix(1.013 0 0 .035 1100 -3)">T</text>
<text class="G" transform="matrix(.968 0 0 .595 1100 -6.5)">G</text>
<text class="A" transform="matrix(.895 0 0 .05 1200 -1.5)">A</text>
<text class="G" transform="matrix(.968 0 0 1.035 1200 -6.5)">G</text>
<text class="G" transform="matrix(.968 0 0 .025 1300 -.5)">G</text>
<text class="T" transform="matrix(1.013 0 0 .035 1300 -3)">T</text>
<text class="C" transform="matrix(1.1 0 0 .795 1300 -6.5)">C</text>
<text class="T" transform="matrix(1.013 0 0 .115 1400 -1)">T</text>
<text class="A" transform="matrix(.895 0 0 .12 1500 -1.5)">A</text>
<text class="G" transform="matrix(.968 0 0 .715 1500 -13.5)">G</text>
<text class="C" transform="matrix(1.1 0 0 .015 1600 -.5)">C</text>
<text class="T" transform="matrix(1.013 0 0 .03 1600 -2)">T</text>
<text class="A" transform="matrix(.895 0 0 .26 1600 -5)">A</text>
<text class="A" transform="matrix(.895 0 0 .59 1700 -1)">A</text>
<text class="T" transform="matrix(1.013 0 0 1.105 1800 -.5)">T</text>
<text class="C" transform="matrix(1.1 0 0 .02 1900 -2)">C</text>
<text class="A" transform="matrix(.895 0 0 1.05 1900 -4)">A</text>
<text class="C" transform="matrix(1.1 0 0 .025 2000 -.5)">C</text>
<text class="G" transform="matrix(.968 0 0 .13 2000 -3)">G</text>
<text class="A" transform="matrix(.895 0 0 .23 2000 -16)">A</text>
<text class="T" transform="matrix(1.013 0 0 1.09 2100 -1)">T</text>
<text class="T" transform="matrix(1.013 0 0 .015 2200 -.5)">T</text>
<text class="A" transform="matrix(.895 0 0 .94 2200 -2)">A</text>
<text class="G" transform="matrix(.968 0 0 .015 2300 -.5)">G</text>
<text class="C" transform="matrix(1.1 0 0 .07 2300 -2)">C</text>
<text class="T" transform="matrix(1.013 0 0 .4 2300 -9)">T</text>
<text class="T" transform="matrix(1.013 0 0 .725 2400 -.5)">T</text>
<text class="T" transform="matrix(1.013 0 0 .025 2500 -1)">T</text>
<text class="C" transform="matrix(1.1 0 0 .855 2500 -3.5)">C</text>
<text class="T" transform="matrix(1.013 0 0 .02 2600 -1)">T</text>
<text class="C" transform="matrix(1.1 0 0 .88 2600 -3)">C</text>
<text class="A" transform="matrix(.895 0 0 .15 2700 -2)">A</text>
<text class="T" transform="matrix(1.013 0 0 .06 2800 -1)">T</text>
<text class="T" transform="matrix(1.013 0 0 .075 2900 -1)">T</text>
<text class="A" transform="matrix(.895 0 0 .025 3000 -.5)">A</text>
<text class="G" transform="matrix(.968 0 0 .16 3000 -3)">G</text>
</g>
</g>

<!-- Panel 7 -->
<g transform="translate(3150,298.4)">
<text class="ti" x="0.5" y="39.5" textLength="846" lengthAdjust="spacingAndGlyphs">pattern_0, n=6705; subpattern_7, ns=518</text>
<use href="#tk"/>
<g class="yl"><text x="116" y="247.1">0.00</text><text x="116" y="213.2">0.02</text><text x="116" y="179.3">0.04</text><text x="116" y="145.5">0.06</text><text x="116" y="111.6">0.08</text><text x="116" y="77.7">0.10</text></g>
<text class="xl" y="261.7"><tspan x="137.2">1</tspan><tspan x="163.2">2</tspan><tspan x="189.1">3</tspan><tspan x="215.1">4</tspan><tspan x="241.1">5</tspan><tspan x="267.1">6</tspan><tspan x="293">7</tspan><tspan x="319">8</tspan><tspan x="345">9</tspan><tspan x="370.9">10</tspan><tspan x="396.9">11</tspan><tspan x="422.9">12</tspan><tspan x="448.8">13</tspan><tspan x="474.8">14</tspan><tspan x="500.8">15</tspan><tspan x="526.8">16</tspan><tspan x="552.7">17</tspan><tspan x="578.7">18</tspan><tspan x="604.7">19</tspan><tspan x="630.6">20</tspan><tspan x="656.6">21</tspan><tspan x="682.6">22</tspan><tspan x="708.5">23</tspan><tspan x="734.5">24</tspan><tspan x="760.5">25</tspan><tspan x="786.5">26</tspan><tspan x="812.4">27</tspan><tspan x="838.4">28</tspan><tspan x="864.4">29</tspan><tspan x="890.3">30</tspan></text>
<g class="lg" transform="translate(111.23 242.7) scale(.2597 1.694)">
<text class="C" transform="matrix(1.1 0 0 .02 100 0)">C</text>
<text class="T" transform="matrix(1.013 0 0 .045 100 -2)">T</text>
<text class="T" transform="matrix(1.013 0 0 .03 200 -2)">T</text>
<text class="A" transform="matrix(.895 0 0 .085 200 -5)">A</text>
<text class="C" transform="matrix(1.1 0 0 .445 200 -13.5)">C</text>
<text class="A" transform="matrix(.895 0 0 .025 300 -.5)">A</text>
<text class="C" transform="matrix(1.1 0 0 .065 300 -3)">C</text>
<text class="T" transform="matrix(1.013 0 0 .225 300 -9.5)">T</text>
<text class="T" transform="matrix(1.013 0 0 .61 400 -1)">T</text>
<text class="T" transform="matrix(1.013 0 0 .265 500 -2.5)">T</text>
<text class="G" transform="matrix(.968 0 0 .02 600 -1)">G</text>
<text class="T" transform="matrix(1.013 0 0 .68 600 -3)">T</text>
<text class="T" transform="matrix(1.013 0 0 .77 700 -2)">T</text>
<text class="C" transform="matrix(1.1 0 0 .72 800 -1)">C</text>
<text class="A" transform="matrix(.895 0 0 .045 900 -.5)">A</text>
<text class="C" transform="matrix(1.1 0 0 .025 1000 -1)">C</text>
<text class="T" transform="matrix(1.013 0 0 .18 1000 -3.5)">T</text>
<text class="A" transform="matrix(.895 0 0 .055 1100 -1.5)">A</text>
<text class="T" transform="matrix(1.013 0 0 .105 1100 -7)">T</text>
<text class="G" transform="matrix(.968 0 0 .485 1100 -17.5)">G</text>
<text class="A" transform="matrix(.895 0 0 .075 1200 -1.5)">A</text>
<text class="G" transform="matrix(.968 0 0 1.01 1200 -9)">G</text>
<text class="G" transform="matrix(.968 0 0 .025 1300 -1.5)">G</text>
<text class="T" transform="matrix(1.013 0 0 .055 1300 -4)">T</text>
<text class="C" transform="matrix(1.1 0 0 .765 1300 -9.5)">C</text>
<text class="T" transform="matrix(1.013 0 0 .115 1400 -1)">T</text>
<text class="A" transform="matrix(.895 0 0 .045 1500 -1.5)">A</text>
<text class="G" transform="matrix(.968 0 0 .795 1500 -6)">G</text>
<text class="A" transform="matrix(.895 0 0 .045 1600 -.5)">A</text>
<text class="T" transform="matrix(1.013 0 0 .065 1600 -5)">T</text>
<text class="C" transform="matrix(1.1 0 0 .195 1600 -11.5)">C</text>
<text class="C" transform="matrix(1.1 0 0 .015 1700 -.5)">C</text>
<text class="A" transform="matrix(.895 0 0 .58 1700 -2)">A</text>
<text class="G" transform="matrix(.968 0 0 .03 1800 -1)">G</text>
<text class="T" transform="matrix(1.013 0 0 1.07 1800 -4)">T</text>
<text class="G" transform="matrix(.968 0 0 .03 1900 -2)">G</text>
<text class="T" transform="matrix(1.013 0 0 .02 1900 -5)">T</text>
<text class="A" transform="matrix(.895 0 0 1.01 1900 -7)">A</text>
<text class="A" transform="matrix(.895 0 0 .035 2000 -1)">A</text>
<text class="G" transform="matrix(.968 0 0 .335 2000 -4.5)">G</text>
<text class="C" transform="matrix(1.1 0 0 .035 2100 -1)">C</text>
<text class="T" transform="matrix(1.013 0 0 1.055 2100 -4.5)">T</text>
<text class="G" transform="matrix(.968 0 0 .03 2200 -2)">G</text>
<text class="A" transform="matrix(.895 0 0 .91 2200 -5)">A</text>
<text class="C" transform="matrix(1.1 0 0 .05 2300 -1)">C</text>
<text class="T" transform="matrix(1.013 0 0 .43 2300 -6)">T</text>
<text class="C" transform="matrix(1.1 0 0 .015 2400 -.5)">C</text>
<text class="T" transform="matrix(1.013 0 0 .71 2400 -2)">T</text>
<text class="T" transform="matrix(1.013 0 0 .07 2500 -1)">T</text>
<text class="C" transform="matrix(1.1 0 0 .81 2500 -8)">C</text>
<text class="T" transform="matrix(1.013 0 0 .08 2600 -1)">T</text>
<text class="C" transform="matrix(1.1 0 0 .82 2600 -9)">C</text>
<text class="T" transform="matrix(1.013 0 0 .025 2700 -1)">T</text>
<text class="A" transform="matrix(.895 0 0 .135 2700 -3.5)">A</text>
<text class="T" transform="matrix(1.013 0 0 .06 2800 -1)">T</text>
<text class="T" transform="matrix(1.013 0 0 .02 2900 -1.5)">T</text>
<text class="G" transform="matrix(.968 0 0 .05 2900 -3.5)">G</text>
<text class="A" transform="matrix(.895 0 0 .03 3000 -1)">A</text>
<text class="G" transform="matrix(.968 0 0 .15 3000 -4)">G</text>
</g>
</g>

<!-- Panel 8 -->
<g transform="translate(0,596.8)">
<text class="ti" x="0.5" y="39.5" textLength="846" lengthAdjust="spacingAndGlyphs">pattern_0, n=6705; subpattern_8, ns=423</text>
<use href="#tk"/>
<g class="yl"><text x="116" y="247.1">0.00</text><text x="116" y="213.2">0.02</text><text x="116" y="179.3">0.04</text><text x="116" y="145.5">0.06</text><text x="116" y="111.6">0.08</text><text x="116" y="77.7">0.10</text></g>
<text class="xl" y="261.7"><tspan x="137.2">1</tspan><tspan x="163.2">2</tspan><tspan x="189.1">3</tspan><tspan x="215.1">4</tspan><tspan x="241.1">5</tspan><tspan x="267.1">6</tspan><tspan x="293">7</tspan><tspan x="319">8</tspan><tspan x="345">9</tspan><tspan x="370.9">10</tspan><tspan x="396.9">11</tspan><tspan x="422.9">12</tspan><tspan x="448.8">13</tspan><tspan x="474.8">14</tspan><tspan x="500.8">15</tspan><tspan x="526.8">16</tspan><tspan x="552.7">17</tspan><tspan x="578.7">18</tspan><tspan x="604.7">19</tspan><tspan x="630.6">20</tspan><tspan x="656.6">21</tspan><tspan x="682.6">22</tspan><tspan x="708.5">23</tspan><tspan x="734.5">24</tspan><tspan x="760.5">25</tspan><tspan x="786.5">26</tspan><tspan x="812.4">27</tspan><tspan x="838.4">28</tspan><tspan x="864.4">29</tspan><tspan x="890.3">30</tspan></text>
<g class="lg" transform="translate(111.23 242.7) scale(.2597 1.694)">
<text class="C" transform="matrix(1.1 0 0 .015 100 -.5)">C</text>
<text class="T" transform="matrix(1.013 0 0 .045 100 -2)">T</text>
<text class="A" transform="matrix(.895 0 0 .055 200 -.5)">A</text>
<text class="T" transform="matrix(1.013 0 0 .06 200 -6)">T</text>
<text class="C" transform="matrix(1.1 0 0 .46 200 -12)">C</text>
<text class="A" transform="matrix(.895 0 0 .015 300 -.5)">A</text>
<text class="C" transform="matrix(1.1 0 0 .08 300 -2)">C</text>
<text class="T" transform="matrix(1.013 0 0 .22 300 -10)">T</text>
<text class="T" transform="matrix(1.013 0 0 .61 400 -1)">T</text>
<text class="T" transform="matrix(1.013 0 0 .27 500 -2)">T</text>
<text class="T" transform="matrix(1.013 0 0 .68 600 -2)">T</text>
<text class="A" transform="matrix(.895 0 0 .03 700 -1)">A</text>
<text class="T" transform="matrix(1.013 0 0 .74 700 -4)">T</text>
<text class="C" transform="matrix(1.1 0 0 .72 800 -1)">C</text>
<text class="A" transform="matrix(.895 0 0 .055 900 -.5)">A</text>
<text class="C" transform="matrix(1.1 0 0 .02 1000 -2)">C</text>
<text class="T" transform="matrix(1.013 0 0 .18 1000 -4)">T</text>
<text class="A" transform="matrix(.895 0 0 .04 1100 -1)">A</text>
<text class="T" transform="matrix(1.013 0 0 .06 1100 -5)">T</text>
<text class="G" transform="matrix(.968 0 0 .55 1100 -11)">G</text>
<text class="A" transform="matrix(.895 0 0 .065 1200 -1)">A</text>
<text class="G" transform="matrix(.968 0 0 1.045 1200 -7.5)">G</text>
<text class="G" transform="matrix(.968 0 0 .025 1300 -1.5)">G</text>
<text class="T" transform="matrix(1.013 0 0 .035 1300 -4)">T</text>
<text class="C" transform="matrix(1.1 0 0 .785 1300 -7.5)">C</text>
<text class="T" transform="matrix(1.013 0 0 .12 1400 -1)">T</text>
<text class="A" transform="matrix(.895 0 0 .035 1500 -.5)">A</text>
<text class="G" transform="matrix(.968 0 0 .82 1500 -4)">G</text>
<text class="T" transform="matrix(1.013 0 0 .025 1600 -.5)">T</text>
<text class="A" transform="matrix(.895 0 0 .045 1600 -3)">A</text>
<text class="C" transform="matrix(1.1 0 0 .235 1600 -7.5)">C</text>
<text class="A" transform="matrix(.895 0 0 .585 1700 -1.5)">A</text>
<text class="T" transform="matrix(1.013 0 0 1.115 1800 -.5)">T</text>
<text class="T" transform="matrix(1.013 0 0 .025 1900 -1)">T</text>
<text class="G" transform="matrix(.968 0 0 .025 1900 -3.5)">G</text>
<text class="A" transform="matrix(.895 0 0 1.02 1900 -6)">A</text>
<text class="A" transform="matrix(.895 0 0 .03 2000 -1)">A</text>
<text class="G" transform="matrix(.968 0 0 .35 2000 -4)">G</text>
<text class="C" transform="matrix(1.1 0 0 .015 2100 -.5)">C</text>
<text class="T" transform="matrix(1.013 0 0 1.08 2100 -2)">T</text>
<text class="G" transform="matrix(.968 0 0 .045 2200 -.5)">G</text>
<text class="A" transform="matrix(.895 0 0 .91 2200 -5)">A</text>
<text class="C" transform="matrix(1.1 0 0 .075 2300 -.5)">C</text>
<text class="T" transform="matrix(1.013 0 0 .41 2300 -8)">T</text>
<text class="T" transform="matrix(1.013 0 0 .725 2400 -.5)">T</text>
<text class="T" transform="matrix(1.013 0 0 .05 2500 -.5)">T</text>
<text class="C" transform="matrix(1.1 0 0 .835 2500 -5.5)">C</text>
<text class="T" transform="matrix(1.013 0 0 .05 2600 -.5)">T</text>
<text class="C" transform="matrix(1.1 0 0 .855 2600 -5.5)">C</text>
<text class="T" transform="matrix(1.013 0 0 .015 2700 -.5)">T</text>
<text class="A" transform="matrix(.895 0 0 .15 2700 -2)">A</text>
<text class="T" transform="matrix(1.013 0 0 .06 2800 -1)">T</text>
<text class="T" transform="matrix(1.013 0 0 .025 2900 -1)">T</text>
<text class="G" transform="matrix(.968 0 0 .045 2900 -3.5)">G</text>
<text class="T" transform="matrix(1.013 0 0 .015 3000 -.5)">T</text>
<text class="A" transform="matrix(.895 0 0 .015 3000 -2)">A</text>
<text class="G" transform="matrix(.968 0 0 .155 3000 -3.5)">G</text>
</g>
</g>
</svg>
</body></html>
